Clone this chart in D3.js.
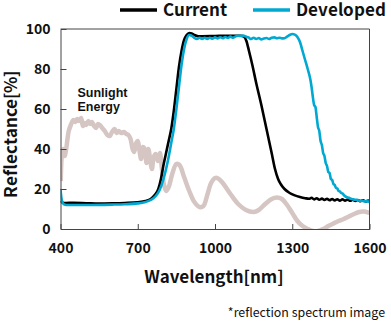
<!DOCTYPE html>
<html>
<head>
<meta charset="utf-8">
<script src="https://cdn.jsdelivr.net/npm/d3@7"></script>
<style>
  /* Same CJK gothic face with tighter line metrics for the large headings */
  @font-face {
    font-family: "GothicTight";
    src: local("Noto Sans CJK JP Bold"), local("NotoSansCJKjp-Bold"), local("Noto Sans CJK JP");
    font-weight: 700;
    ascent-override: 90%;
    descent-override: 22%;
    line-gap-override: 0%;
  }
  html, body { margin: 0; padding: 0; background: #fff; }
  svg { display: block; }
  text { font-family: "Noto Sans CJK JP", "Noto Sans", sans-serif; fill: #111; }
  text.tight { font-family: "GothicTight", "Noto Sans CJK JP", sans-serif; }
</style>
</head>
<body>
<svg id="chart" width="391" height="321"></svg>
<script>
// Reflectance spectra (wavelength in nm, reflectance in %)
const currentWl = [400, 405, 410, 420, 450, 500, 550, 600, 650, 700, 730, 750, 765, 780, 790, 800, 810, 820, 830, 840, 850, 860, 870, 880, 890, 900, 910, 920, 935, 950, 1000, 1050, 1080, 1100, 1112, 1122, 1132, 1145, 1160, 1180, 1200, 1210, 1220, 1233, 1245, 1255, 1270, 1290, 1310, 1330, 1350, 1365, 1375, 1385, 1395, 1405, 1415, 1425, 1435, 1445, 1455, 1465, 1475, 1485, 1495, 1505, 1515, 1525, 1535, 1545, 1555, 1565, 1575, 1585, 1595, 1600];
const currentVal = [14, 13.4, 13.1, 13, 13.1, 12.9, 12.7, 12.8, 13, 13.4, 14, 15, 16.8, 20, 25, 32, 38, 44, 50, 59, 70, 81, 89, 94.5, 97, 98, 97.8, 97, 96.4, 96.4, 96.5, 96.6, 96.6, 96.6, 96.2, 94, 89, 82, 73, 62, 50, 44, 38, 30, 25, 22.5, 20, 18, 16.8, 16, 15.4, 15.1, 15.6, 14.8, 15.4, 14.6, 15.2, 14.5, 15.1, 14.4, 15, 14.3, 14.9, 14.2, 14.8, 14.2, 14.7, 14.1, 14.6, 14, 14.5, 13.9, 14.4, 13.8, 14.2, 14];

const developedWl = [400, 403, 407, 415, 430, 500, 600, 650, 700, 730, 750, 770, 785, 800, 810, 820, 830, 840, 850, 860, 870, 880, 890, 900, 910, 920, 930, 940, 950, 960, 970, 980, 990, 1000, 1010, 1020, 1030, 1040, 1050, 1060, 1070, 1080, 1090, 1100, 1110, 1120, 1130, 1140, 1150, 1160, 1170, 1180, 1190, 1200, 1210, 1220, 1230, 1240, 1250, 1260, 1270, 1280, 1290, 1300, 1310, 1320, 1330, 1340, 1350, 1360, 1370, 1375, 1380, 1385, 1390, 1395, 1400, 1405, 1410, 1415, 1420, 1425, 1430, 1435, 1440, 1445, 1450, 1455, 1460, 1465, 1470, 1475, 1480, 1485, 1490, 1495, 1500, 1510, 1520, 1530, 1540, 1550, 1560, 1570, 1580, 1590, 1600];
const developedVal = [20, 16, 13.5, 12.3, 12, 12, 12.2, 12.4, 12.8, 13.5, 14.5, 16.5, 19.5, 25, 30, 36, 43, 50, 60, 71, 82, 90, 95, 97, 96.6, 95.5, 95, 95.6, 95, 95.6, 95, 95.6, 95.2, 95.8, 95.3, 95.9, 95.4, 96, 95.5, 96.2, 95.6, 96.3, 96.6, 96.5, 96.7, 96.2, 95.8, 95, 95.6, 95, 95.5, 94.8, 95.3, 95.5, 95, 95.6, 95.8, 95.4, 95.6, 95.3, 95.4, 96.2, 97, 97.5, 97.2, 96, 93.5, 89, 84.5, 80, 75, 71, 66, 62, 61, 56, 51, 49, 44, 42, 38, 36.5, 33, 31.5, 28.5, 28, 25, 24.5, 22.5, 22, 20.5, 20.3, 19, 18.8, 18, 17.8, 17, 16, 15.6, 15, 14.7, 14.6, 14.2, 14.1, 13.8, 13.8, 13.7];

const sunWl = [401, 406, 410, 416, 422, 432, 440, 450, 458, 465, 472, 480, 487, 494, 500, 508, 515, 522, 530, 538, 545, 553, 562, 572, 582, 592, 600, 610, 618, 626, 636, 646, 656, 664, 672, 680, 686, 694, 700, 707, 713, 720, 727, 734, 741, 748, 755, 762, 770, 778, 786, 794, 802, 810, 820, 835, 850, 862, 880, 900, 920, 940, 955, 970, 985, 1000, 1012, 1030, 1060, 1090, 1120, 1150, 1170, 1195, 1220, 1240, 1260, 1280, 1300, 1320, 1340, 1360, 1380, 1400, 1420, 1440, 1460, 1480, 1500, 1520, 1540, 1560, 1580, 1600];
const sunVal = [24, 38, 40, 36.5, 40, 49, 52, 54.5, 53.5, 55, 54, 55.5, 51.5, 53, 52, 54, 52.5, 53.5, 51.5, 50.5, 52.5, 52, 50.5, 49, 47, 46.5, 48.5, 50, 48, 49, 48, 48.5, 47.5, 47, 45, 40, 38.5, 43, 44, 39, 35, 41, 40, 33, 40, 35, 30, 36, 37.5, 34, 38, 30, 22, 19, 21, 28, 32.5, 32, 26, 19, 13.5, 11, 11.5, 17, 23, 25.5, 25.3, 23, 17.5, 12.5, 9.5, 8.5, 9.5, 12.5, 15, 15.8, 15, 12, 8, 4, 1.5, 0, -1, -1, 0, 1.5, 2.8, 4, 5, 6.3, 7.5, 8.5, 8.7, 8];

const xTicks = [400, 700, 1000, 1300, 1600];
const yTicks = [0, 20, 40, 60, 80, 100];

const svg = d3.select("#chart");
const plot = { left: 60.5, right: 369.5, top: 29, bottom: 229 };

const x = d3.scaleLinear().domain([400, 1600]).range([plot.left, plot.right]);
const y = d3.scaleLinear().domain([0, 100]).range([plot.bottom, plot.top]);

svg.append("defs").append("clipPath").attr("id", "plot-clip")
  .append("rect")
  .attr("x", plot.left).attr("y", plot.top)
  .attr("width", plot.right - plot.left).attr("height", plot.bottom - plot.top);

const lines = svg.append("g").attr("clip-path", "url(#plot-clip)");

const pairs = (wl, v) => wl.map((w, i) => [w, v[i]]);

lines.append("path")
  .datum(pairs(sunWl, sunVal))
  .attr("fill", "none")
  .attr("stroke", "#d6c6c3")
  .attr("stroke-width", 4.5)
  .attr("stroke-linejoin", "round")
  .attr("d", d3.line().x(d => x(d[0])).y(d => y(d[1])).curve(d3.curveCatmullRom));

lines.append("path")
  .datum(pairs(currentWl, currentVal))
  .attr("fill", "none")
  .attr("stroke", "#000")
  .attr("stroke-width", 2.6)
  .attr("stroke-linejoin", "round")
  .attr("d", d3.line().x(d => x(d[0])).y(d => y(d[1])).curve(d3.curveMonotoneX));

lines.append("path")
  .datum(pairs(developedWl, developedVal))
  .attr("fill", "none")
  .attr("stroke", "#00a8d2")
  .attr("stroke-width", 2.6)
  .attr("stroke-linejoin", "round")
  .attr("d", d3.line().x(d => x(d[0])).y(d => y(d[1])).curve(d3.curveMonotoneX));

// Frame: top and right borders
svg.append("path")
  .attr("d", `M${plot.left},${plot.top}H${plot.right}V${plot.bottom}`)
  .attr("fill", "none").attr("stroke", "#444").attr("stroke-width", 1);

// Axes with inward ticks
const xAxis = svg.append("g").attr("transform", `translate(0,${plot.bottom})`)
  .call(d3.axisBottom(x).tickValues(xTicks).tickSize(-5).tickPadding(14).tickFormat(d3.format("d")));
const yAxis = svg.append("g").attr("transform", `translate(${plot.left},0)`)
  .call(d3.axisLeft(y).tickValues(yTicks).tickSize(-6).tickPadding(10).tickFormat(d3.format("d")));

[xAxis, yAxis].forEach(g => {
  g.select(".domain").attr("stroke", "#444").attr("stroke-width", 1);
  g.selectAll(".tick line").attr("stroke", "#444");
  g.selectAll(".tick text")
    .attr("fill", "#111")
    .style("font-family", '"Noto Sans CJK JP", "Noto Sans", sans-serif')
    .style("font-size", "14px")
    .style("font-weight", "700");
});
xAxis.selectAll(".tick").filter(d => d === 400 || d === 1600).select("line").remove();
yAxis.selectAll(".tick").filter(d => d === 0 || d === 100).select("line").remove();

// Axis titles
svg.append("text")
  .attr("x", 214).attr("y", 283)
  .attr("text-anchor", "middle")
  .style("font-size", "17px").style("font-weight", "700")
  .text("Wavelength[nm]");

svg.append("text")
  .attr("class", "tight")
  .attr("transform", "translate(16.5,134) rotate(-90)")
  .attr("text-anchor", "middle")
  .style("font-size", "17px").style("font-weight", "700")
  .text("Reflectance[%]");

// Annotation for the solar spectrum
const note = svg.append("text")
  .attr("x", 77.5).attr("y", 96.5)
  .style("font-family", '"Liberation Sans", Arial, sans-serif')
  .style("font-size", "12.5px").style("font-weight", "700");
note.append("tspan").attr("x", 77.5).text("Sunlight");
note.append("tspan").attr("x", 77.5).attr("dy", 14).text("Energy");

// Legend
const legendItems = [
  { label: "Current", color: "#000", x1: 120, x2: 157, tx: 163 },
  { label: "Developed", color: "#00a8d2", x1: 253, x2: 290, tx: 296 }
];
const legend = svg.append("g");
legendItems.forEach(it => {
  legend.append("line")
    .attr("x1", it.x1).attr("x2", it.x2).attr("y1", 10).attr("y2", 10)
    .attr("stroke", it.color).attr("stroke-width", 3.5);
  legend.append("text")
    .attr("class", "tight")
    .attr("x", it.tx).attr("y", 16)
    .style("font-size", "17px").style("font-weight", "700")
    .text(it.label);
});

// Footnote
svg.append("text")
  .attr("x", 385).attr("y", 316.5)
  .attr("text-anchor", "end")
  .style("font-size", "12.4px")
  .text("*reflection spectrum image");
</script>
</body>
</html>
